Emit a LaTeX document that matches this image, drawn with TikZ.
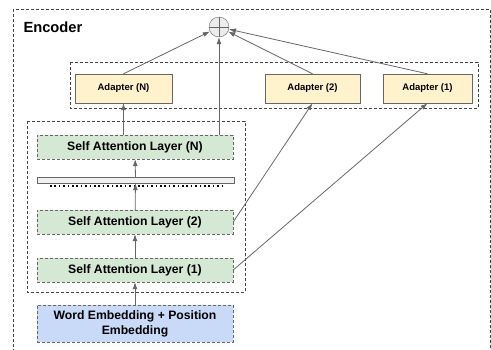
\documentclass[tikz,border=0pt]{standalone}
\usepackage{fontspec}
\setmainfont{Liberation Sans}
\usepackage{tikz}
\usetikzlibrary{positioning,arrows.meta}
\definecolor{adfill}{HTML}{FFF2CC}
\definecolor{salfill}{HTML}{D5E8D4}
\definecolor{embfill}{HTML}{C9DAF8}
\definecolor{linegray}{HTML}{666666}
\definecolor{framegray}{HTML}{444444}

\begin{document}
\begin{tikzpicture}[x=1pt,y=-1pt,
  frame/.style={draw=framegray, line width=0.9pt, dash pattern=on 3pt off 2pt},
  layer/.style={draw=linegray, fill=salfill, dash pattern=on 3pt off 2pt, minimum width=196pt, minimum height=24pt, inner sep=0pt, font=\fontsize{12.2}{14}\selectfont\bfseries},
  adapter/.style={draw=linegray, fill=adfill, minimum height=29pt, inner sep=0pt, font=\fontsize{9.5}{11}\selectfont\bfseries},
  conn/.style={draw=linegray, line width=0.8pt, -{Latex[length=7pt,width=5pt]}}]
\clip (0,0) rectangle (491,349);
% frames
\draw[frame] (13,9) rectangle (490,360);
\draw[frame] (70,62) rectangle (478,108);
\draw[frame] (27,121) rectangle (245,292);
\node[anchor=west, font=\fontsize{14.7}{16}\selectfont\bfseries] (enc) at (20,27) {Encoder};
% sum
\node[circle, draw=linegray, fill=gray!15, minimum size=20pt, inner sep=0pt] (sum) at (219,27) {};
\draw[linegray, line width=0.6pt] (sum.north) -- (sum.south) (sum.west) -- (sum.east);
% adapters
\node[adapter, minimum width=97pt] (adN) at (123.5,88.5) {Adapter (N)};
\node[adapter, minimum width=95pt] (ad2) at (312.5,88.5) {Adapter (2)};
\node[adapter, minimum width=89pt] (ad1) at (427.5,88.5) {Adapter (1)};
% layers
\node[layer] (salN) at (135,147) {Self Attention Layer (N)};
\node[draw=linegray, fill=gray!12, minimum width=197pt, minimum height=6pt, inner sep=0pt] (bar) at (135.5,180) {};
\draw[black, line width=1.6pt, dash pattern=on 1.6pt off 2.8pt] (50,186) -- (222,186);
\node[layer] (sal2) at (135,222) {Self Attention Layer (2)};
\node[layer] (sal1) at (135,270) {Self Attention Layer (1)};
\node[layer, fill=embfill, minimum height=37pt, align=center, font=\fontsize{12.2}{15}\selectfont\bfseries] (emb) at (135,323.5) {Word Embedding + Position\\Embedding};
% connectors
\draw[conn] (emb) -- (sal1);
\draw[conn] (sal1) -- (sal2);
\draw[conn] (sal2) -- (bar);
\draw[conn] (bar) -- (salN);
\draw[conn] (adN.south |- salN.north) -- (adN.south);
\draw[conn] (sum |- salN.north) -- (sum);
\draw[conn] (sal2.east) -- (ad2.south);
\draw[conn] (sal1.east) -- (ad1.south);
\draw[conn] (adN.north) -- (sum);
\draw[conn] (ad2.north) -- (sum);
\draw[conn] (ad1.north) -- (sum);
\end{tikzpicture}
\end{document}
